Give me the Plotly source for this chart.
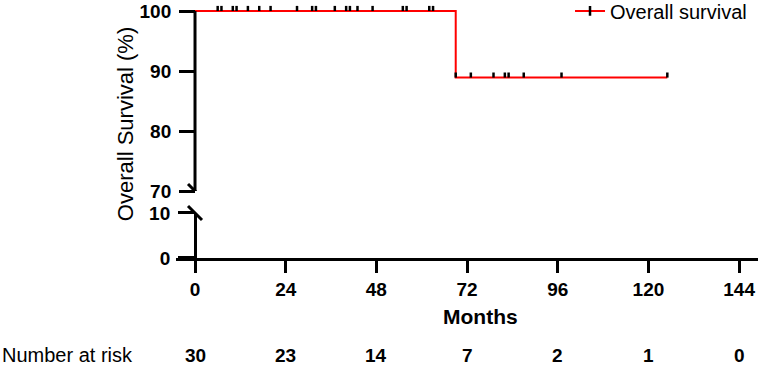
import plotly.graph_objects as go

# ---- data ----
curve_months = [0, 69, 125]
curve_survival = [100, 88.9, 88.9]
censor_months = [6, 7, 10, 11, 14, 17, 20, 27, 31, 32, 37, 40, 41, 43, 47,
                 55, 56, 62, 63, 69, 73, 79, 82, 83, 87, 97, 125]
x_ticks = [0, 24, 48, 72, 96, 120, 144]
at_risk = [30, 23, 14, 7, 2, 1, 0]
top_ticks = [70, 80, 90, 100]
bottom_ticks = [0, 10]


def surv_at(t):
    s = curve_survival[0]
    for m, v in zip(curve_months, curve_survival):
        if m <= t:
            s = v
    return s


censor_surv = [surv_at(t) for t in censor_months]

FONT = "Liberation Sans, Arial, sans-serif"
XMIN, XMAX = -5.03, 149.0
ypos = (0 - XMIN) / (XMAX - XMIN)

fig = go.Figure()

fig.add_trace(go.Scatter(
    x=curve_months, y=curve_survival, mode="lines",
    line=dict(color="#ff0000", width=2, shape="hv"),
    showlegend=False, yaxis="y", xaxis="x", cliponaxis=False,
))
fig.add_trace(go.Scatter(
    x=censor_months, y=censor_surv, mode="markers",
    marker=dict(size=1, color="rgba(0,0,0,0)"),
    error_y=dict(type="data", symmetric=False,
                 array=[0.85] * len(censor_months),
                 arrayminus=[0] * len(censor_months),
                 color="black", thickness=2.5, width=0),
    showlegend=False, cliponaxis=False, hoverinfo="skip",
))
# empty trace so the lower (broken) axis segment exists
fig.add_trace(go.Scatter(x=[None], y=[None], xaxis="x", yaxis="y2",
                         showlegend=False, hoverinfo="skip"))
# legend entry
fig.add_trace(go.Scatter(
    x=[None], y=[None], mode="lines+markers", name="Overall survival",
    line=dict(color="#ff0000", width=2),
    marker=dict(symbol="line-ns", size=7, color="black",
                line=dict(color="black", width=2.5)),
))

tickfont = dict(family=FONT, size=19, color="black", weight="bold")

fig.update_layout(
    width=765, height=367,
    margin=dict(l=176, r=7, t=2, b=109, autoexpand=False),
    paper_bgcolor="white", plot_bgcolor="white",
    font=dict(family=FONT, color="black"),
    xaxis=dict(range=[XMIN, XMAX], tickvals=x_ticks, ticktext=[str(v) for v in x_ticks],
               showline=True, linewidth=3, linecolor="black",
               ticks="outside", ticklen=12, tickwidth=3, tickcolor="black",
               tickfont=tickfont, showgrid=False, zeroline=False,
               anchor="y2"),
    yaxis=dict(range=[70, 101.5], domain=[0.2617, 1.0],
               tickvals=top_ticks, showline=False,
               ticks="outside", ticklen=16, tickwidth=3, tickcolor="black",
               tickfont=tickfont, showgrid=False, zeroline=False,
               anchor="free", position=ypos, ticklabelstandoff=4),
    yaxis2=dict(range=[0, 10], domain=[0, 0.1758],
                tickvals=bottom_ticks, showline=True, linewidth=3, linecolor="black",
                ticks="outside", ticklen=16, tickwidth=3, tickcolor="black",
                tickfont=tickfont, showgrid=False, zeroline=False,
                anchor="free", position=ypos, ticklabelstandoff=4),
    legend=dict(x=0.677, xanchor="left", y=0.965, yanchor="middle",
                bgcolor="rgba(0,0,0,0)", font=dict(family=FONT, size=20, color="black")),
    showlegend=True,
)

shapes = [
    # upper y-axis line
    dict(type="line", xref="x", yref="y", x0=0, x1=0, y0=70, y1=100,
         line=dict(color="black", width=3)),
    # axis break marks
    dict(type="line", xref="x", yref="y", xsizemode="pixel", ysizemode="pixel",
         xanchor=0, yanchor=70, x0=-7, x1=7, y0=7, y1=-7,
         line=dict(color="black", width=3)),
    dict(type="line", xref="x", yref="paper", xsizemode="pixel", ysizemode="pixel",
         xanchor=0, yanchor=0.1758, x0=-7, x1=7, y0=7, y1=-7,
         line=dict(color="black", width=3)),
]
fig.update_layout(shapes=shapes)

ann = [
    dict(text="Overall Survival (%)", xref="paper", yref="paper", x=-0.0876, y=0.523,
         xanchor="center", yanchor="middle",
         textangle=-90, showarrow=False, font=dict(family=FONT, size=22, color="black")),
    dict(text="<b>Months</b>", xref="paper", yref="paper", x=0.524, y=-0.2266,
         xanchor="center", yanchor="middle",
         showarrow=False, font=dict(family=FONT, size=21, color="black")),
    dict(text="Number at risk", xref="paper", yref="paper", x=-0.3024, y=-0.379,
         xanchor="left", yanchor="middle",
         showarrow=False, font=dict(family=FONT, size=20, color="black")),
]
for m, n in zip(x_ticks, at_risk):
    ann.append(dict(text="<b>%d</b>" % n, xref="x", yref="paper", x=m, y=-0.379,
                    xanchor="center", yanchor="middle",
                    showarrow=False, font=dict(family=FONT, size=19, color="black")))
fig.update_layout(annotations=ann)

fig.write_html("out.html", config={"displayModeBar": False},
               post_script="document.body.style.margin='0';")
